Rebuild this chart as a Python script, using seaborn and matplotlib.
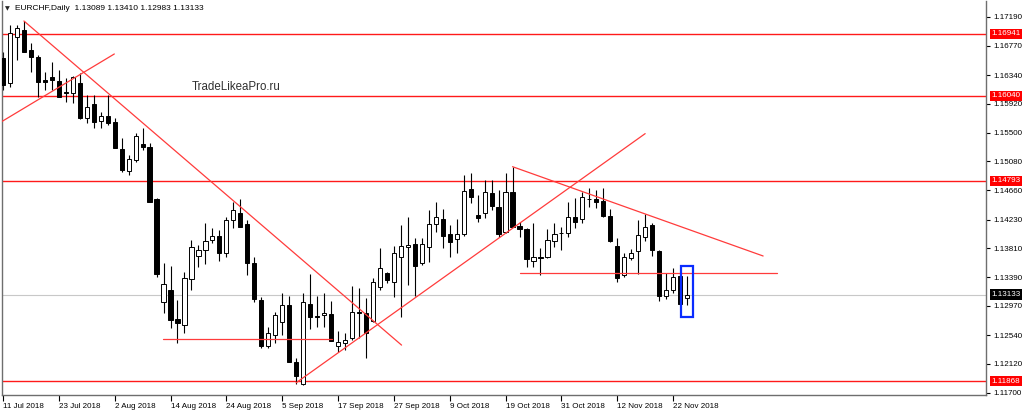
import matplotlib
matplotlib.use('Agg')
import matplotlib.pyplot as plt
import matplotlib.patches as mpatches
import numpy as np
import seaborn as sns

# EURCHF daily candles, 11 Jul 2018 .. 26 Nov 2018
opens = [1.16590, 1.16221, 1.16902, 1.17000, 1.16707, 1.16609, 1.16269, 1.16308, 1.16254, 1.16094,
         1.16075, 1.16221, 1.15709, 1.15914, 1.15670, 1.15747, 1.15660, 1.15256, 1.14939, 1.15100,
         1.15334, 1.15294, 1.14530, 1.13029, 1.13200, 1.12772, 1.12688, 1.13356, 1.13697, 1.13785,
         1.13931, 1.13989, 1.13745, 1.14223, 1.14321, 1.14165, 1.13590, 1.13054, 1.12382, 1.12542,
         1.12737, 1.12981, 1.12152, 1.11826, 1.12995, 1.12820, 1.12842, 1.12849, 1.12382, 1.12430,
         1.12494, 1.12883, 1.12859, 1.12751, 1.13239, 1.13453, 1.13321, 1.13687, 1.13833, 1.13872,
         1.13590, 1.13833, 1.14165, 1.14233, 1.14018, 1.13941, 1.14018, 1.14672, 1.14296, 1.14321,
         1.14622, 1.14417, 1.14052, 1.14628, 1.14135, 1.14087, 1.13624, 1.13678, 1.13687, 1.13920,
         1.14033, 1.14029, 1.14271, 1.14233, 1.14534, 1.14530, 1.14501, 1.14281, 1.13843, 1.13419,
         1.13663, 1.13770, 1.13970, 1.14150, 1.13770, 1.13112, 1.13200, 1.13405, 1.13089]
highs = [1.16678, 1.17073, 1.17073, 1.17131, 1.16805, 1.16634, 1.16390, 1.16536, 1.16415, 1.16294,
         1.16327, 1.16367, 1.16050, 1.16050, 1.15806, 1.16050, 1.15709, 1.15417, 1.15173, 1.15490,
         1.15567, 1.15353, 1.14544, 1.13590, 1.13551, 1.13054, 1.13467, 1.13931, 1.13858, 1.14175,
         1.14102, 1.14077, 1.14271, 1.14490, 1.14525, 1.14223, 1.13687, 1.13102, 1.12664, 1.12883,
         1.13156, 1.13112, 1.12206, 1.13152, 1.13434, 1.13112, 1.13152, 1.13039, 1.12601, 1.12567,
         1.13263, 1.13225, 1.13079, 1.13371, 1.13809, 1.13467, 1.13843, 1.14150, 1.14271, 1.13956,
         1.13960, 1.14369, 1.14490, 1.14379, 1.14150, 1.14233, 1.14881, 1.14914, 1.14588, 1.14808,
         1.14808, 1.14661, 1.14905, 1.15002, 1.14198, 1.14102, 1.14175, 1.13809, 1.14087, 1.14183,
         1.14125, 1.14490, 1.14540, 1.14637, 1.14686, 1.14661, 1.14686, 1.14379, 1.13956, 1.13745,
         1.13795, 1.14223, 1.14311, 1.14175, 1.13785, 1.13453, 1.13517, 1.13419, 1.13410]
lows = [1.16123, 1.16171, 1.16561, 1.16674, 1.16390, 1.16025, 1.16123, 1.16123, 1.16020, 1.15952,
        1.15933, 1.15706, 1.15636, 1.15563, 1.15563, 1.15611, 1.15271, 1.14929, 1.14881, 1.15075,
        1.15246, 1.14486, 1.13394, 1.12859, 1.12640, 1.12430, 1.12576, 1.13200, 1.13532, 1.13580,
        1.13891, 1.13628, 1.13678, 1.14102, 1.14116, 1.13419, 1.13029, 1.12348, 1.12348, 1.12421,
        1.12542, 1.12148, 1.11826, 1.11819, 1.12626, 1.12664, 1.12664, 1.12455, 1.12298, 1.12323,
        1.12469, 1.12494, 1.12211, 1.12737, 1.13200, 1.13307, 1.13102, 1.12810, 1.13273, 1.13112,
        1.13565, 1.13614, 1.14052, 1.13809, 1.13687, 1.13736, 1.13989, 1.14476, 1.14194, 1.14248,
        1.14369, 1.13970, 1.14037, 1.14121, 1.13970, 1.13532, 1.13532, 1.13419, 1.13663, 1.13824,
        1.13785, 1.13979, 1.14102, 1.14183, 1.14417, 1.14398, 1.14271, 1.13906, 1.13321, 1.13394,
        1.13638, 1.13429, 1.13920, 1.13697, 1.13044, 1.13064, 1.13161, 1.12975, 1.12983]
closes = [1.16196, 1.16951, 1.17024, 1.16682, 1.16609, 1.16244, 1.16244, 1.16269, 1.16025, 1.16086,
          1.16317, 1.15709, 1.15879, 1.15660, 1.15743, 1.15636, 1.15280, 1.14954, 1.15114, 1.15455,
          1.15290, 1.14490, 1.13434, 1.13288, 1.12762, 1.12722, 1.13380, 1.13824, 1.13785, 1.13920,
          1.13989, 1.13736, 1.14223, 1.14369, 1.14125, 1.13590, 1.13064, 1.12382, 1.12567, 1.12835,
          1.12981, 1.12152, 1.11943, 1.13029, 1.12810, 1.12805, 1.12857, 1.12459, 1.12436, 1.12469,
          1.12883, 1.12868, 1.12567, 1.13312, 1.13517, 1.13346, 1.13736, 1.13843, 1.13858, 1.13551,
          1.13868, 1.14160, 1.14271, 1.13989, 1.13906, 1.14018, 1.14651, 1.14555, 1.14248, 1.14628,
          1.14428, 1.14018, 1.14637, 1.14125, 1.14087, 1.13653, 1.13678, 1.13668, 1.13931, 1.14018,
          1.14026, 1.14271, 1.14189, 1.14555, 1.14525, 1.14490, 1.14281, 1.13916, 1.13371, 1.13678,
          1.13736, 1.14004, 1.14116, 1.13785, 1.13112, 1.13200, 1.13386, 1.12990, 1.13133]

date_labels = ['11 Jul 2018', '23 Jul 2018', '2 Aug 2018', '14 Aug 2018', '24 Aug 2018',
               '5 Sep 2018', '17 Sep 2018', '27 Sep 2018', '9 Oct 2018', '19 Oct 2018',
               '31 Oct 2018', '12 Nov 2018', '22 Nov 2018']
price_ticks = [1.17190, 1.16770, 1.16340, 1.15920, 1.15500, 1.15080, 1.14660,
               1.14230, 1.13810, 1.13390, 1.12970, 1.12540, 1.12120, 1.11700]
levels = [1.16941, 1.16040, 1.14793, 1.11868]
last_price = 1.13133

# drawn trend lines: (bar, price) pairs
trend_lines = [
    [(3.0, 1.17131), (57.1, 1.12395)],
    [(-0.2, 1.15660), (15.95, 1.16649)],
    [(42.0, 1.11845), (92.0, 1.15485)],
    [(73.0, 1.15002), (108.9, 1.13697)],
    [(74.0, 1.13444), (110.9, 1.13444)],
    [(22.96, 1.12484), (47.1, 1.12484)],
]
box_bars = (97.1, 98.8)
box_prices = (1.12801, 1.13551)

sns.set_style('white')
plt.rcParams['font.family'] = ['Liberation Sans', 'DejaVu Sans']

fig = plt.figure(figsize=(10.24, 4.13), dpi=100)
ax = fig.add_axes([2 / 1024, 18 / 413, 984 / 1024, 394 / 413])

o = np.array(opens)
h = np.array(highs)
l = np.array(lows)
c = np.array(closes)
x = np.arange(len(o))
up = c >= o

ax.vlines(x, l, h, color='black', linewidth=0.8, zorder=2)
body_low = np.minimum(o, c)
body_h = np.maximum(np.abs(c - o), 0.00002)
ax.bar(x[up], body_h[up], bottom=body_low[up], width=0.6, color='white',
       edgecolor='black', linewidth=0.7, zorder=3)
ax.bar(x[~up], body_h[~up], bottom=body_low[~up], width=0.6, color='black',
       edgecolor='black', linewidth=0.7, zorder=3)

for lv in levels:
    ax.axhline(lv, color='#ff1a1a', linewidth=1.0, zorder=1)
ax.axhline(last_price, color='#c8c8c8', linewidth=0.8, zorder=1)

for (x0, y0), (x1, y1) in trend_lines:
    ax.plot([x0, x1], [y0, y1], color='#ff3b3b', linewidth=0.9, zorder=4)

ax.add_patch(mpatches.Rectangle((box_bars[0], box_prices[0]), box_bars[1] - box_bars[0],
                                box_prices[1] - box_prices[0], fill=False,
                                edgecolor='#0a2cff', linewidth=1.6, zorder=5))

ax.set_xlim(-0.143, 140.83)
ax.set_ylim(1.11666, 1.17423)

ax.set_xticks(np.arange(0, 8 * len(date_labels), 8))
ax.set_xticklabels(date_labels, ha='left')
ax.yaxis.tick_right()
ax.set_yticks(price_ticks)
ax.set_yticklabels([f'{p:.5f}' for p in price_ticks])
ax.tick_params(axis='x', direction='out', length=4, width=0.8, pad=2, labelsize=5.8,
               colors='black', bottom=True)
ax.tick_params(axis='y', direction='out', length=3, width=0.8, pad=2, labelsize=5.8,
               colors='black', right=True, left=False)

for side in ['left', 'bottom', 'right']:
    ax.spines[side].set_color('#6e6e6e')
    ax.spines[side].set_linewidth(1.0)
ax.spines['top'].set_visible(False)

ytr = ax.get_yaxis_transform()
for lv in levels:
    ax.text(1.0055, lv, f'{lv:.5f}', transform=ytr, ha='left', va='center', fontsize=5.8,
            color='white', zorder=6, clip_on=False,
            bbox=dict(boxstyle='square,pad=0.2', facecolor='#ff0000', edgecolor='none'))
ax.text(1.0055, last_price, f'{last_price:.5f}', transform=ytr, ha='left', va='center',
        fontsize=5.8, color='white', zorder=6, clip_on=False,
        bbox=dict(boxstyle='square,pad=0.2', facecolor='black', edgecolor='none'))

ax.text(0.1928, 0.7817, 'TradeLikeaPro.ru', transform=ax.transAxes, ha='left', va='center',
        fontsize=8.3, color='#303030')

fig.text(5 / 1024, 1 - 9 / 413, '\u25bc', fontsize=4.5, ha='left', va='center',
         family=['DejaVu Sans'])
fig.text(15 / 1024, 1 - 9 / 413, 'EURCHF,Daily  1.13089 1.13410 1.12983 1.13133',
         fontsize=6, ha='left', va='center', color='black')

fig.savefig('out.png', dpi=100)
